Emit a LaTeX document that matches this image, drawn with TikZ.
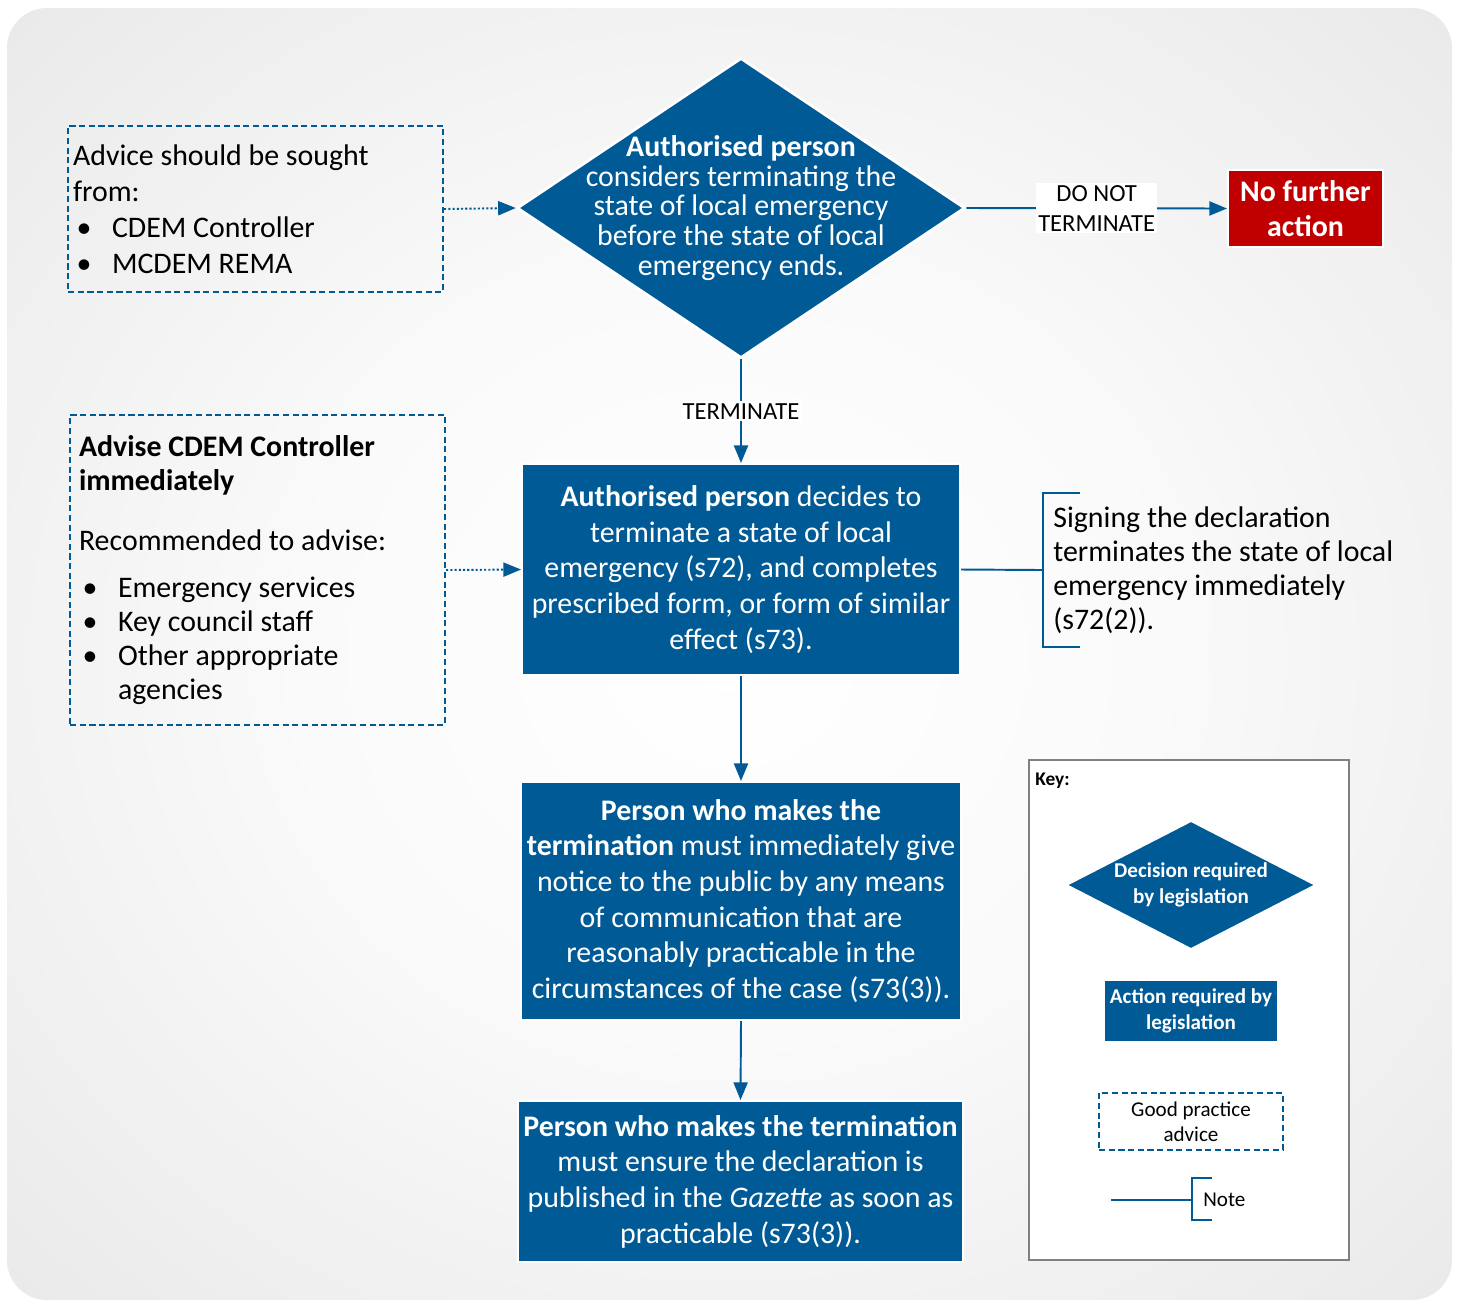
\documentclass[tikz,border=0pt]{standalone}
\usepackage{fontspec}
\setmainfont{Carlito}
\usetikzlibrary{shapes.geometric,arrows.meta}
\definecolor{cdemblue}{RGB}{0,90,150}
\definecolor{cdemred}{RGB}{192,0,0}
\definecolor{keygrey}{RGB}{128,128,128}
\pgfdeclareradialshading{bgshade}{\pgfpoint{0bp}{0bp}}{color(0bp)=(white); color(15bp)=(black!2); color(50bp)=(black!13); color(72bp)=(black!16)}
\newcommand{\bul}{\makebox[0.78cm][l]{\hspace{0.07cm}\textbullet}}
\tikzset{
  action/.style={rectangle, fill=cdemblue, draw=white, line width=1.2pt, text=white, align=center, inner sep=0pt, font=\fontsize{17}{20.3}\selectfont},
  decision/.style={diamond, fill=cdemblue, draw=white, line width=1.5pt, inner sep=0pt},
  dectext/.style={text=white, align=center, inner sep=0pt},
  advice/.style={rectangle, draw=cdemblue, line width=1.3pt, dash pattern=on 3.5pt off 2pt, inner sep=0pt},
  conn/.style={draw=cdemblue, line width=1.1pt},
  arrow/.style={conn, -{Triangle[length=10pt,width=8pt]}},
  dotarrow/.style={arrow, dash pattern=on 1.2pt off 1.2pt},
  lbl/.style={fill=white, align=center, inner sep=1.2pt, font=\fontsize{14}{17}\selectfont},
}
\begin{document}
\begin{tikzpicture}[x=0.02cm, y=-0.02cm]
	\useasboundingbox (0,0) rectangle (1459,1299);
	\shade[shading=bgshade, rounded corners=0.8cm] (7,8) rectangle (1452,1300);
	% flow
	\node[decision, minimum width=8.96cm, minimum height=6cm] (dec) at (741,208) {};
	\node[dectext, font=\fontsize{17}{17}\selectfont] (dectxt) at (dec.center) {\textbf{Authorised person}\\considers terminating the\\state of local emergency\\before the state of local\\emergency ends.};
	\node[action, fill=cdemred, font=\bfseries\fontsize{17}{20.3}\selectfont, minimum width=3.1cm, minimum height=1.54cm] (nfa) at (1305.5,208.5) {No further\\action};
	\node[action, minimum width=8.76cm, minimum height=4.22cm] (act1) at (741,569.5) {\textbf{Authorised person} decides to\\terminate a state of local\\emergency (s72), and completes\\prescribed form, or form of similar\\effect (s73).};
	\node[action, minimum width=8.8cm, minimum height=4.76cm] (act2) at (741,901) {\textbf{Person who makes the}\\\textbf{termination} must immediately give\\notice to the public by any means\\of communication that are\\reasonably practicable in the\\circumstances of the case (s73(3)).};
	\node[action, minimum width=8.9cm, minimum height=3.22cm] (act3) at (740.5,1181.5) {\textbf{Person who makes the termination}\\must ensure the declaration is\\published in the \textit{Gazette} as soon as\\practicable (s73(3)).};
	% advice
	\node[advice, minimum width=7.5cm, minimum height=3.32cm, text width=7.3cm, align=flush left, font=\fontsize{17}{20.4}\selectfont] (adv1) at (255.5,209) {Advice should be sought\\from:\\\bul CDEM Controller\\\bul MCDEM REMA};
	\node[advice, minimum width=7.5cm, minimum height=6.2cm, text width=7.14cm, align=flush left, font=\fontsize{17}{19.3}\selectfont] (adv2) at (257.5,570) {\textbf{Advise CDEM Controller}\\\textbf{immediately}\\[0.52cm]Recommended to advise:\\[0.26cm]\bul Emergency services\\\bul Key council staff\\\bul Other appropriate\\\hspace*{0.78cm}agencies};
	% note
	\node[anchor=west, inner sep=0pt, align=left, font=\fontsize{17}{19.3}\selectfont] (note) at (1053,570) {Signing the declaration\\terminates the state of local\\emergency immediately\\(s72(2)).};
	\coordinate (notebar) at (1043,570);
	\draw[conn] (1080,493) -| (1043,647) -- (1080,647);
	% connectors
	\draw[dotarrow] (adv1.east) -- (dec.west);
	\draw[dotarrow] (adv2.east) -- (act1.west);
	\draw[arrow] (dec.east) -- node[lbl] {DO NOT\\TERMINATE} (nfa.west);
	\draw[arrow] (dec.south) -- node[lbl] {TERMINATE} (act1.north);
	\draw[arrow] (act1.south) -- (act2.north);
	\draw[arrow] (act2.south) -- (act3.north);
	\draw[conn] (act1.east) -- (notebar);
	% key
	\node[draw=keygrey, fill=white, line width=1.6pt, minimum width=6.4cm, minimum height=10cm] (key) at (1189,1010) {};
	\node[anchor=base west, inner sep=0pt, font=\bfseries\fontsize{11}{13}\selectfont] (keytitle) at (1035,785) {Key:};
	\node[decision, minimum width=5.04cm, minimum height=2.6cm] (keydec) at (1191,885) {};
	\node[dectext, font=\bfseries\fontsize{12}{14.7}\selectfont] (keydectxt) at (keydec.center) {Decision required\\by legislation};
	\node[action, font=\bfseries\fontsize{12}{14.7}\selectfont, minimum width=3.48cm, minimum height=1.24cm] (keyact) at (1191,1011) {Action required by\\legislation};
	\node[advice, align=center, font=\fontsize{12}{14}\selectfont, minimum width=3.68cm, minimum height=1.14cm] (keyadv) at (1191,1121.5) {Good practice\\advice};
	\coordinate (keyline) at (1111,1200);
	\coordinate (keybar) at (1192,1200);
	\node[anchor=west, inner sep=0pt, font=\fontsize{12}{14}\selectfont] (keynote) at (1203,1200) {Note};
	\draw[conn] (keyline) -- (keybar);
	\draw[conn] (1212,1178) -| (1192,1220) -- (1212,1220);
\end{tikzpicture}
\end{document}
